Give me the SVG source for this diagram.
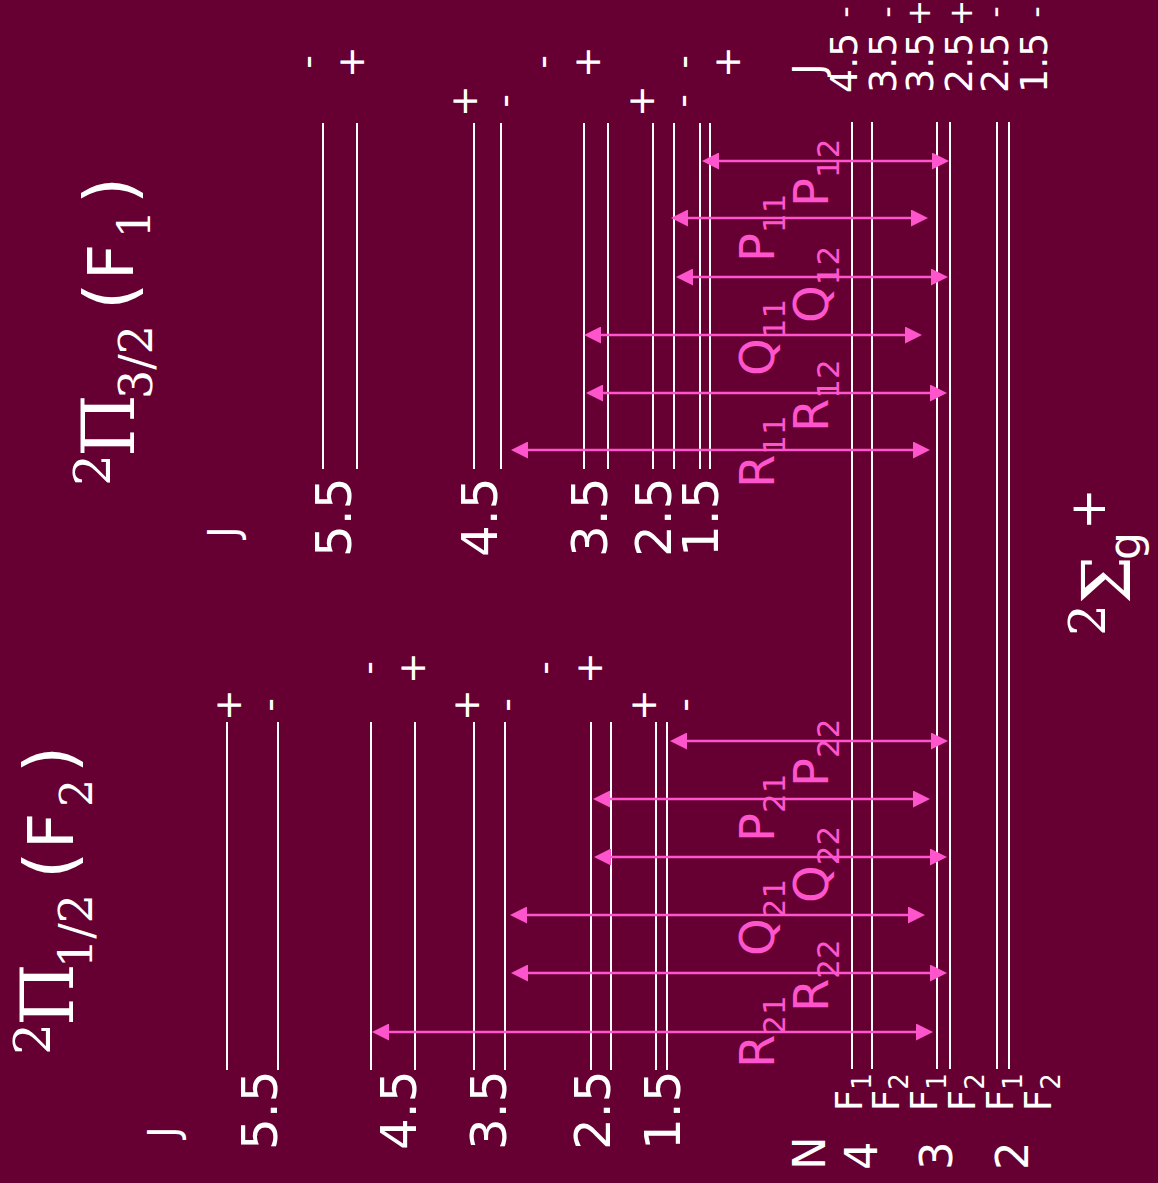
<svg xmlns="http://www.w3.org/2000/svg" width="1158" height="1183" viewBox="0 0 1158 1183">
<defs>
<style>
.lv{stroke:#ffffff;stroke-width:2}
.tr{stroke:#ff55cc;stroke-width:2.3;marker-start:url(#ah);marker-end:url(#ah)}
.w{fill:#ffffff;font-family:"DejaVu Sans",sans-serif}
.pk{fill:#ff55cc;font-family:"DejaVu Sans",sans-serif;font-size:48px}
.sb{font-size:31px}
.sg{font-size:38px;text-anchor:middle}
.ss{font-size:32px;text-anchor:middle}
.jv{font-size:50px}
.tl{font-size:38px}
.sf{font-family:"DejaVu Serif",serif}
</style>
<marker id="ah" markerUnits="userSpaceOnUse" markerWidth="17" markerHeight="17" refX="9" refY="8.5" orient="auto-start-reverse" viewBox="0 0 17 17"><path d="M0,0 L17,8.5 L0,17 z" fill="#ff55cc"/></marker>
</defs>
<rect width="1158" height="1183" fill="#660033"/>

<g id="levels-pi32">
<line class="lv" x1="323" y1="123" x2="323" y2="469"/>
<line class="lv" x1="357" y1="123" x2="357" y2="469"/>
<line class="lv" x1="474" y1="123" x2="474" y2="469"/>
<line class="lv" x1="501" y1="123" x2="501" y2="469"/>
<line class="lv" x1="584" y1="123" x2="584" y2="469"/>
<line class="lv" x1="608" y1="123" x2="608" y2="469"/>
<line class="lv" x1="653" y1="123" x2="653" y2="469"/>
<line class="lv" x1="674" y1="123" x2="674" y2="469"/>
<line class="lv" x1="700" y1="123" x2="700" y2="469"/>
<line class="lv" x1="710" y1="123" x2="710" y2="469"/>
</g>
<g id="levels-pi12">
<line class="lv" x1="227" y1="722" x2="227" y2="1070"/>
<line class="lv" x1="278" y1="722" x2="278" y2="1070"/>
<line class="lv" x1="371" y1="722" x2="371" y2="1070"/>
<line class="lv" x1="415" y1="722" x2="415" y2="1070"/>
<line class="lv" x1="474" y1="722" x2="474" y2="1070"/>
<line class="lv" x1="505" y1="722" x2="505" y2="1070"/>
<line class="lv" x1="591" y1="722" x2="591" y2="1070"/>
<line class="lv" x1="611" y1="722" x2="611" y2="1070"/>
<line class="lv" x1="656" y1="722" x2="656" y2="1070"/>
<line class="lv" x1="667" y1="722" x2="667" y2="1070"/>
</g>
<g id="levels-sigma">
<line class="lv" x1="852" y1="122" x2="852" y2="1069"/>
<line class="lv" x1="872" y1="122" x2="872" y2="1069"/>
<line class="lv" x1="937" y1="122" x2="937" y2="1069"/>
<line class="lv" x1="950" y1="122" x2="950" y2="1069"/>
<line class="lv" x1="997" y1="122" x2="997" y2="1069"/>
<line class="lv" x1="1009" y1="122" x2="1009" y2="1069"/>
</g>

<g id="transitions">
<line class="tr" x1="710" y1="161" x2="941" y2="161"/>
<line class="tr" x1="679" y1="218" x2="920" y2="218"/>
<line class="tr" x1="684" y1="277" x2="940" y2="277"/>
<line class="tr" x1="592" y1="335" x2="914" y2="335"/>
<line class="tr" x1="594" y1="393" x2="939" y2="393"/>
<line class="tr" x1="519" y1="450" x2="922" y2="450"/>
<line class="tr" x1="678" y1="741" x2="940" y2="741"/>
<line class="tr" x1="601" y1="799" x2="922" y2="799"/>
<line class="tr" x1="602" y1="857" x2="939" y2="857"/>
<line class="tr" x1="518" y1="915" x2="917" y2="915"/>
<line class="tr" x1="519" y1="973" x2="939" y2="973"/>
<line class="tr" x1="380" y1="1032" x2="925" y2="1032"/>
</g>

<g id="transition-labels">
<text class="pk" transform="translate(774 488) rotate(-90)">R<tspan class="sb" dy="11">11</tspan></text>
<text class="pk" transform="translate(774 376) rotate(-90)">Q<tspan class="sb" dy="11">11</tspan></text>
<text class="pk" transform="translate(774 262) rotate(-90)">P<tspan class="sb" dy="11">11</tspan></text>
<text class="pk" transform="translate(828 432) rotate(-90)">R<tspan class="sb" dy="11">12</tspan></text>
<text class="pk" transform="translate(828 323) rotate(-90)">Q<tspan class="sb" dy="11">12</tspan></text>
<text class="pk" transform="translate(828 207) rotate(-90)">P<tspan class="sb" dy="11">12</tspan></text>
<text class="pk" transform="translate(774 1068) rotate(-90)">R<tspan class="sb" dy="11">21</tspan></text>
<text class="pk" transform="translate(774 956) rotate(-90)">Q<tspan class="sb" dy="11">21</tspan></text>
<text class="pk" transform="translate(774 842) rotate(-90)">P<tspan class="sb" dy="11">21</tspan></text>
<text class="pk" transform="translate(828 1012) rotate(-90)">R<tspan class="sb" dy="11">22</tspan></text>
<text class="pk" transform="translate(828 903) rotate(-90)">Q<tspan class="sb" dy="11">22</tspan></text>
<text class="pk" transform="translate(828 787) rotate(-90)">P<tspan class="sb" dy="11">22</tspan></text>
</g>

<g id="parity-pi32">
<text class="w sg" transform="translate(320 62) rotate(-90)">-</text>
<text class="w sg" transform="translate(363.5 62) rotate(-90)">+</text>
<text class="w sg" transform="translate(555 62) rotate(-90)">-</text>
<text class="w sg" transform="translate(599.5 62) rotate(-90)">+</text>
<text class="w sg" transform="translate(696 62) rotate(-90)">-</text>
<text class="w sg" transform="translate(739.5 62) rotate(-90)">+</text>
<text class="w sg" transform="translate(476.5 101) rotate(-90)">+</text>
<text class="w sg" transform="translate(517 101) rotate(-90)">-</text>
<text class="w sg" transform="translate(653.5 101) rotate(-90)">+</text>
<text class="w sg" transform="translate(695 101) rotate(-90)">-</text>
</g>
<g id="parity-pi12">
<text class="w sg" transform="translate(241 705) rotate(-90)">+</text>
<text class="w sg" transform="translate(282 705) rotate(-90)">-</text>
<text class="w sg" transform="translate(478.5 705) rotate(-90)">+</text>
<text class="w sg" transform="translate(519 705) rotate(-90)">-</text>
<text class="w sg" transform="translate(656 705) rotate(-90)">+</text>
<text class="w sg" transform="translate(697 705) rotate(-90)">-</text>
<text class="w sg" transform="translate(381 668) rotate(-90)">-</text>
<text class="w sg" transform="translate(424.5 668) rotate(-90)">+</text>
<text class="w sg" transform="translate(557 668) rotate(-90)">-</text>
<text class="w sg" transform="translate(601.5 668) rotate(-90)">+</text>
</g>

<g id="j-labels-pi32">
<text class="w" font-size="40" transform="translate(237 538) rotate(-90)">J</text>
<text class="w jv" transform="translate(351 557) rotate(-90)">5.5</text>
<text class="w jv" transform="translate(497 557) rotate(-90)">4.5</text>
<text class="w jv" transform="translate(607 557) rotate(-90)">3.5</text>
<text class="w jv" transform="translate(671 557) rotate(-90)">2.5</text>
<text class="w jv" transform="translate(718 557) rotate(-90)">1.5</text>
</g>
<g id="j-labels-pi12">
<text class="w" font-size="40" transform="translate(177 1138) rotate(-90)">J</text>
<text class="w jv" transform="translate(277 1150) rotate(-90)">5.5</text>
<text class="w jv" transform="translate(416 1150) rotate(-90)">4.5</text>
<text class="w jv" transform="translate(506 1150) rotate(-90)">3.5</text>
<text class="w jv" transform="translate(610 1150) rotate(-90)">2.5</text>
<text class="w jv" transform="translate(680 1150) rotate(-90)">1.5</text>
</g>
<g id="j-labels-sigma">
<text class="w" font-size="40" transform="translate(822 75) rotate(-90)">J</text>
<text class="w tl" transform="translate(857 93) rotate(-90)">4.5</text>
<text class="w tl" transform="translate(896 93) rotate(-90)">3.5</text>
<text class="w tl" transform="translate(933 93) rotate(-90)">3.5</text>
<text class="w tl" transform="translate(972 93) rotate(-90)">2.5</text>
<text class="w tl" transform="translate(1008 93) rotate(-90)">2.5</text>
<text class="w tl" transform="translate(1047 93) rotate(-90)">1.5</text>
<text class="w ss" transform="translate(856 12) rotate(-90)">-</text>
<text class="w ss" transform="translate(897.5 12) rotate(-90)">-</text>
<text class="w ss" transform="translate(930 13) rotate(-90)">+</text>
<text class="w ss" transform="translate(972 13) rotate(-90)">+</text>
<text class="w ss" transform="translate(1005.5 12) rotate(-90)">-</text>
<text class="w ss" transform="translate(1046.5 12) rotate(-90)">-</text>
</g>
<g id="n-labels-sigma">
<text class="w" font-size="37" transform="translate(862 1111) rotate(-90)">F<tspan font-size="26" dy="9">1</tspan></text>
<text class="w" font-size="37" transform="translate(899 1111) rotate(-90)">F<tspan font-size="26" dy="9">2</tspan></text>
<text class="w" font-size="37" transform="translate(937 1111) rotate(-90)">F<tspan font-size="26" dy="9">1</tspan></text>
<text class="w" font-size="37" transform="translate(975 1111) rotate(-90)">F<tspan font-size="26" dy="9">2</tspan></text>
<text class="w" font-size="37" transform="translate(1013 1111) rotate(-90)">F<tspan font-size="26" dy="9">1</tspan></text>
<text class="w" font-size="37" transform="translate(1051 1111) rotate(-90)">F<tspan font-size="26" dy="9">2</tspan></text>
<text class="w" font-size="45" transform="translate(825 1170) rotate(-90)">N</text>
<text class="w" font-size="45" transform="translate(877 1170) rotate(-90)">4</text>
<text class="w" font-size="45" transform="translate(952 1170) rotate(-90)">3</text>
<text class="w" font-size="45" transform="translate(1028 1170) rotate(-90)">2</text>
</g>

<g id="title-pi32" transform="rotate(-90)" fill="#ffffff">
<text class="sf" font-size="50" x="-486" y="110">2</text>
<text class="sf" font-size="72" x="-457" y="134">Π</text>
<text class="sf" font-size="46" x="-399" y="152">3/2</text>
<text class="w" font-size="70" x="-310" y="134">(</text>
<text class="w" font-size="63" x="-280" y="133">F</text>
<text class="sf" font-size="44" x="-238" y="150">1</text>
<text class="w" font-size="70" x="-204" y="134">)</text>
</g>
<g id="title-pi12" transform="rotate(-90)" fill="#ffffff">
<text class="sf" font-size="50" x="-1055" y="50">2</text>
<text class="sf" font-size="72" x="-1026" y="73">Π</text>
<text class="sf" font-size="46" x="-968" y="92">1/2</text>
<text class="w" font-size="70" x="-879" y="74">(</text>
<text class="w" font-size="63" x="-849" y="73">F</text>
<text class="sf" font-size="44" x="-807" y="92">2</text>
<text class="w" font-size="70" x="-773" y="74">)</text>
</g>
<g id="title-sigma" transform="rotate(-90)" fill="#ffffff">
<text class="sf" font-size="50" x="-636" y="1105">2</text>
<text class="sf" font-size="68" x="-604" y="1130">Σ</text>
<text class="w" font-size="44" x="-560" y="1140">g</text>
<text class="w" font-size="50" x="-530" y="1105">+</text>
</g>
</svg>
